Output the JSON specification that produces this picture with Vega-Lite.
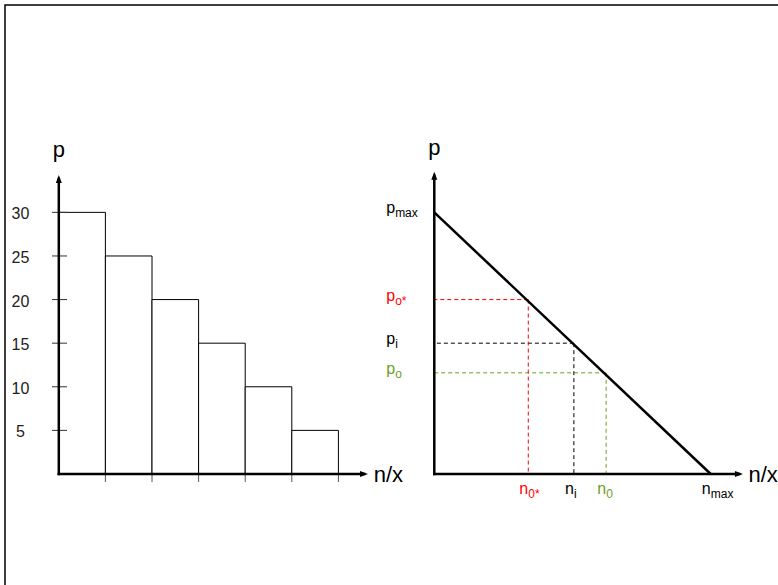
{
  "$schema": "https://vega.github.io/schema/vega-lite/v6.json",
  "width": 775,
  "height": 582,
  "autosize": {"type": "none"},
  "padding": {"left": 5, "top": 5, "right": 0, "bottom": 0},
  "background": "white",
  "config": {"view": {"stroke": "black", "strokeWidth": 1.5}, "font": "Liberation Sans", "aria": false},
  "datasets": {
    "bars": [
      {"bin_start": 0, "bin_end": 1, "p": 30},
      {"bin_start": 1, "bin_end": 2, "p": 25},
      {"bin_start": 2, "bin_end": 3, "p": 20},
      {"bin_start": 3, "bin_end": 4, "p": 15},
      {"bin_start": 4, "bin_end": 5, "p": 10},
      {"bin_start": 5, "bin_end": 6, "p": 5}
    ],
    "demand": [
      {"n": 0, "p": 30},
      {"n": 6, "p": 0}
    ],
    "points": [
      {"key": "o*", "n": 2.04, "p": 20},
      {"key": "i", "n": 3.03, "p": 15},
      {"key": "o", "n": 3.73, "p": 11.6}
    ],
    "ylabels": [
      {"key": "max", "p": 30, "base": "p", "sub": "max"},
      {"key": "o*", "p": 20, "base": "p", "sub": "o*"},
      {"key": "i", "p": 15, "base": "p", "sub": "i"},
      {"key": "o", "p": 11.6, "base": "p", "sub": "o"}
    ],
    "xlabels": [
      {"key": "o*", "n": 2.04, "base": "n", "sub": "0*"},
      {"key": "i", "n": 3.03, "base": "n", "sub": "i"},
      {"key": "o", "n": 3.73, "base": "n", "sub": "0"},
      {"key": "max", "n": 6, "base": "n", "sub": "max"}
    ],
    "blank": [{"id": 1}]
  },
  "resolve": {"scale": {"x": "independent"}},
  "layer": [
    {
      "layer": [
        {
          "data": {"name": "bars"},
          "mark": {"type": "rect", "fill": "white", "stroke": "black", "strokeWidth": 1},
          "encoding": {
            "x": {"field": "bin_start", "type": "quantitative", "axis": null},
            "x2": {"field": "bin_end"},
            "y": {"field": "p", "type": "quantitative", "axis": null}
          }
        },
        {
          "data": {"name": "bars"},
          "mark": {"type": "point", "shape": "M-1,0L1,0", "size": 225, "filled": false, "stroke": "#333333", "strokeWidth": 1, "opacity": 1},
          "encoding": {
            "x": {"datum": 0.015, "type": "quantitative", "axis": null},
            "y": {"field": "p", "type": "quantitative", "scale": {"domain": [-12.96, 53.78], "nice": false, "zero": false}, "axis": null}
          }
        },
        {
          "data": {"name": "bars"},
          "mark": {"type": "point", "shape": "M0,0L0,1", "size": 256, "filled": false, "stroke": "#555555", "strokeWidth": 1, "opacity": 1},
          "encoding": {
            "x": {"field": "bin_end", "type": "quantitative", "scale": {"domain": [-1.1545, 15.476], "nice": false, "zero": false}, "axis": null},
            "y": {"datum": 0, "type": "quantitative", "axis": null}
          }
        },
        {
          "data": {"name": "bars"},
          "mark": {"type": "text", "font": "Liberation Sans", "fontSize": 16, "align": "center", "baseline": "alphabetic", "dy": 7, "color": "#222222"},
          "encoding": {
            "x": {"datum": -0.822, "type": "quantitative", "axis": null},
            "y": {"field": "p", "type": "quantitative", "axis": null},
            "text": {"field": "p", "type": "quantitative"}
          }
        },
        {
          "data": {"name": "blank"},
          "mark": {"type": "rule", "orient": "vertical", "color": "black", "strokeWidth": 2.5, "strokeCap": "square"},
          "encoding": {
            "x": {"datum": 0, "type": "quantitative", "axis": null},
            "y": {"datum": 33.83, "type": "quantitative", "axis": null}
          }
        },
        {
          "data": {"name": "blank"},
          "mark": {"type": "rule", "orient": "horizontal", "color": "black", "strokeWidth": 2.5, "strokeCap": "square"},
          "encoding": {
            "x": {"datum": 6.549, "type": "quantitative", "axis": null},
            "y": {"datum": 0, "type": "quantitative", "axis": null}
          }
        },
        {
          "data": {"name": "blank"},
          "mark": {"type": "point", "shape": "M0,0L-0.375,1L0.375,1Z", "size": 256, "filled": true, "color": "black", "opacity": 1},
          "encoding": {
            "x": {"datum": 0, "type": "quantitative", "axis": null},
            "y": {"datum": 34.29, "type": "quantitative", "axis": null}
          }
        },
        {
          "data": {"name": "blank"},
          "mark": {"type": "point", "shape": "M0,0L-1,-0.375L-1,0.375Z", "size": 256, "filled": true, "color": "black", "opacity": 1},
          "encoding": {
            "x": {"datum": 6.635, "type": "quantitative", "axis": null},
            "y": {"datum": 0, "type": "quantitative", "axis": null}
          }
        },
        {
          "data": {"name": "blank"},
          "mark": {"type": "text", "text": "p", "font": "Liberation Sans", "fontSize": 22, "align": "center", "baseline": "alphabetic", "color": "black"},
          "encoding": {
            "x": {"datum": 0, "type": "quantitative", "axis": null},
            "y": {"datum": 36.34, "type": "quantitative", "axis": null}
          }
        },
        {
          "data": {"name": "blank"},
          "mark": {"type": "text", "text": "n/x", "font": "Liberation Sans", "fontSize": 22, "align": "left", "baseline": "alphabetic", "dy": 8, "color": "black"},
          "encoding": {
            "x": {"datum": 6.757, "type": "quantitative", "axis": null},
            "y": {"datum": 0, "type": "quantitative", "axis": null}
          }
        }
      ]
    },
    {
      "layer": [
        {
          "data": {"name": "points"},
          "mark": {"type": "rule", "orient": "horizontal", "strokeDash": [4, 3], "strokeWidth": 1},
          "encoding": {
            "x": {"field": "n", "type": "quantitative", "axis": null},
            "y": {"field": "p", "type": "quantitative", "axis": null},
            "color": {"field": "key", "type": "nominal", "scale": {"domain": ["max", "o*", "i", "o"], "range": ["#000000", "#ff0000", "#000000", "#6aa121"]}, "legend": null}
          }
        },
        {
          "data": {"name": "points"},
          "mark": {"type": "rule", "orient": "vertical", "strokeDash": [4, 3], "strokeWidth": 1},
          "encoding": {
            "x": {"field": "n", "type": "quantitative", "axis": null},
            "y": {"field": "p", "type": "quantitative", "axis": null},
            "color": {"field": "key", "type": "nominal", "scale": {"domain": ["max", "o*", "i", "o"], "range": ["#000000", "#ff0000", "#000000", "#6aa121"]}, "legend": null}
          }
        },
        {
          "data": {"name": "demand"},
          "mark": {"type": "line", "color": "black", "strokeWidth": 2.5},
          "encoding": {
            "x": {"field": "n", "type": "quantitative", "scale": {"domain": [-9.318, 7.504], "nice": false, "zero": false}, "axis": null},
            "y": {"field": "p", "type": "quantitative", "scale": {"domain": [-12.96, 53.78], "nice": false, "zero": false}, "axis": null}
          }
        },
        {
          "data": {"name": "blank"},
          "mark": {"type": "rule", "orient": "vertical", "color": "black", "strokeWidth": 2.5, "strokeCap": "square"},
          "encoding": {
            "x": {"datum": 0, "type": "quantitative", "axis": null},
            "y": {"datum": 34.21, "type": "quantitative", "axis": null}
          }
        },
        {
          "data": {"name": "blank"},
          "mark": {"type": "rule", "orient": "horizontal", "color": "black", "strokeWidth": 2.5, "strokeCap": "square"},
          "encoding": {
            "x": {"datum": 6.613, "type": "quantitative", "axis": null},
            "y": {"datum": 0, "type": "quantitative", "axis": null}
          }
        },
        {
          "data": {"name": "blank"},
          "mark": {"type": "point", "shape": "M0,0L-0.375,1L0.375,1Z", "size": 256, "filled": true, "color": "black", "opacity": 1},
          "encoding": {
            "x": {"datum": 0, "type": "quantitative", "axis": null},
            "y": {"datum": 34.67, "type": "quantitative", "axis": null}
          }
        },
        {
          "data": {"name": "blank"},
          "mark": {"type": "point", "shape": "M0,0L-1,-0.375L-1,0.375Z", "size": 256, "filled": true, "color": "black", "opacity": 1},
          "encoding": {
            "x": {"datum": 6.70, "type": "quantitative", "axis": null},
            "y": {"datum": 0, "type": "quantitative", "axis": null}
          }
        },
        {
          "data": {"name": "blank"},
          "mark": {"type": "text", "text": "p", "font": "Liberation Sans", "fontSize": 22, "align": "center", "baseline": "alphabetic", "color": "black"},
          "encoding": {
            "x": {"datum": 0, "type": "quantitative", "axis": null},
            "y": {"datum": 36.54, "type": "quantitative", "axis": null}
          }
        },
        {
          "data": {"name": "blank"},
          "mark": {"type": "text", "text": "n/x", "font": "Liberation Sans", "fontSize": 22, "align": "left", "baseline": "alphabetic", "dy": 8, "color": "black"},
          "encoding": {
            "x": {"datum": 6.818, "type": "quantitative", "axis": null},
            "y": {"datum": 0, "type": "quantitative", "axis": null}
          }
        },
        {
          "data": {"name": "ylabels"},
          "mark": {"type": "text", "font": "Liberation Sans", "fontSize": 16, "align": "right", "baseline": "alphabetic", "dy": 1},
          "encoding": {
            "x": {"datum": -0.85, "type": "quantitative", "axis": null},
            "y": {"field": "p", "type": "quantitative", "axis": null},
            "text": {"field": "base", "type": "nominal"},
            "color": {"field": "key", "type": "nominal", "scale": {"domain": ["max", "o*", "i", "o"], "range": ["#000000", "#ff0000", "#000000", "#6aa121"]}, "legend": null}
          }
        },
        {
          "data": {"name": "ylabels"},
          "mark": {"type": "text", "font": "Liberation Sans", "fontSize": 12, "align": "left", "baseline": "alphabetic", "dy": 5},
          "encoding": {
            "x": {"datum": -0.85, "type": "quantitative", "axis": null},
            "y": {"field": "p", "type": "quantitative", "axis": null},
            "text": {"field": "sub", "type": "nominal"},
            "color": {"field": "key", "type": "nominal", "scale": {"domain": ["max", "o*", "i", "o"], "range": ["#000000", "#ff0000", "#000000", "#6aa121"]}, "legend": null}
          }
        },
        {
          "data": {"name": "xlabels"},
          "mark": {"type": "text", "font": "Liberation Sans", "fontSize": 16, "align": "right", "baseline": "alphabetic"},
          "encoding": {
            "x": {"field": "n", "type": "quantitative", "axis": null},
            "y": {"datum": -2.33, "type": "quantitative", "axis": null},
            "text": {"field": "base", "type": "nominal"},
            "color": {"field": "key", "type": "nominal", "scale": {"domain": ["max", "o*", "i", "o"], "range": ["#000000", "#ff0000", "#000000", "#6aa121"]}, "legend": null}
          }
        },
        {
          "data": {"name": "xlabels"},
          "mark": {"type": "text", "font": "Liberation Sans", "fontSize": 12, "align": "left", "baseline": "alphabetic", "dy": 4},
          "encoding": {
            "x": {"field": "n", "type": "quantitative", "axis": null},
            "y": {"datum": -2.33, "type": "quantitative", "axis": null},
            "text": {"field": "sub", "type": "nominal"},
            "color": {"field": "key", "type": "nominal", "scale": {"domain": ["max", "o*", "i", "o"], "range": ["#000000", "#ff0000", "#000000", "#6aa121"]}, "legend": null}
          }
        }
      ]
    }
  ]
}
